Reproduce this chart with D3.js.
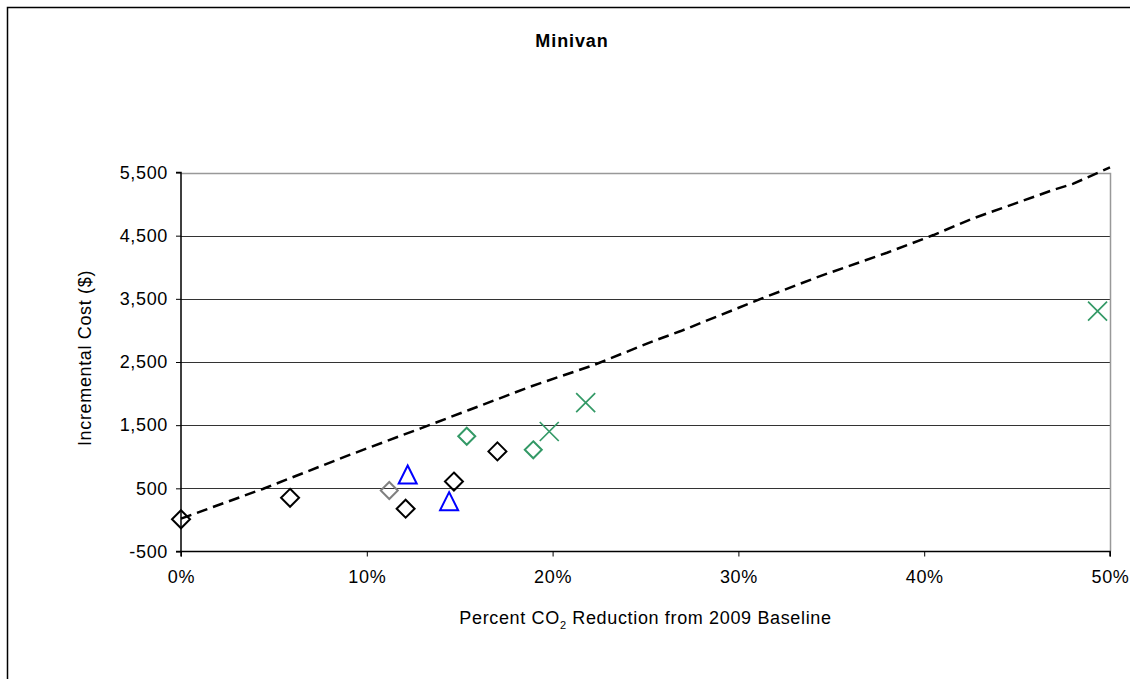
<!DOCTYPE html>
<html><head><meta charset="utf-8">
<script src="https://cdn.jsdelivr.net/npm/d3@7"></script>
<style>
html,body{margin:0;padding:0;background:#fff;}
svg{display:block;font-family:"Liberation Sans",Arial,sans-serif;}
</style></head>
<body><svg id="c" width="1130" height="679"></svg>
<script>
// ---- data ----
const title = "Minivan";
const xTicks = [0, 0.1, 0.2, 0.3, 0.4, 0.5];
const yTicks = [-500, 500, 1500, 2500, 3500, 4500, 5500];

// dashed cost curve
const curveX = [0, 0.044, 0.089, 0.129, 0.155, 0.188, 0.222, 0.255, 0.269, 0.313, 0.344, 0.380, 0.405, 0.426, 0.448, 0.470, 0.480, 0.500];
const curveY = [20, 490, 1010, 1450, 1740, 2110, 2450, 2840, 2990, 3510, 3860, 4230, 4510, 4770, 5000, 5230, 5320, 5580];

// black diamonds
const blackX = [0, 0.0587, 0.1209, 0.1469, 0.1703];
const blackY = [10, 350, 178, 607, 1085];
// grey diamond
const greyX = [0.1121];
const greyY = [466];
// blue triangles
const blueX = [0.1220, 0.1443];
const blueY = [720, 297];
// green diamonds
const greenDX = [0.1538, 0.1896];
const greenDY = [1325, 1110];
// green crosses
const greenXX = [0.1982, 0.2178, 0.4933];
const greenXY = [1400, 1856, 3305];

// ---- layout ----
const svg = d3.select("#c");
const L = 181, R = 1110, T = 172.5, B = 551.5;
const x = d3.scaleLinear().domain([0, 0.5]).range([L, R]);
const y = d3.scaleLinear().domain([-500, 5500]).range([B, T]);
const FS = 18, LS = 0.65;

// outer chart border
svg.append("rect").attr("x", 7.5).attr("y", 7.5).attr("width", 1150).attr("height", 700)
  .attr("fill", "#fff").attr("stroke", "#000").attr("stroke-width", 1.5);

// title
svg.append("text").attr("x", 572).attr("y", 47).attr("text-anchor", "middle")
  .attr("font-size", 18).attr("font-weight", "bold").attr("letter-spacing", 0.9).text(title);

// gridlines
svg.append("g").selectAll("line").data(yTicks.filter(d => d > -500 && d < 5500)).join("line")
  .attr("x1", L).attr("x2", R).attr("y1", d => Math.round(y(d)) + 0.5).attr("y2", d => Math.round(y(d)) + 0.5)
  .attr("stroke", "#333").attr("stroke-width", 1);

// plot area border top/right (grey)
svg.append("path").attr("d", `M${L},${Math.round(T)+0.5}H${R+0.5}V${B}`)
  .attr("fill", "none").attr("stroke", "#999").attr("stroke-width", 1.5);

// axes
const yAxis = d3.axisLeft(y).tickValues(yTicks).tickSize(5).tickPadding(8)
  .tickFormat(d => d3.format(",")(d).replace("−", "-"));
const gy = svg.append("g").attr("transform", `translate(${L},0)`).call(yAxis);
const xAxis = d3.axisBottom(x).tickValues(xTicks).tickSize(5).tickPadding(14)
  .tickFormat(d3.format(".0%"));
const gx = svg.append("g").attr("transform", `translate(0,${B})`).call(xAxis);
[gy, gx].forEach(g => {
  g.select(".domain").attr("stroke", "#000").attr("stroke-width", 1.5);
  g.selectAll(".tick line").attr("stroke", "#000").attr("stroke-width", 1);
  g.selectAll("text").attr("font-size", FS).attr("letter-spacing", LS).attr("fill", "#000")
    .attr("font-family", "'Liberation Sans',Arial,sans-serif");
});
gy.select(".domain").attr("d", `M-5,${B}H0V${T}H-5`);
gx.select(".domain").attr("d", `M${L},5V0H${R}V5`);

// axis titles
svg.append("text").attr("transform", `translate(91,${(T + B) / 2 - 4}) rotate(-90)`)
  .attr("text-anchor", "middle").attr("font-size", FS).attr("letter-spacing", LS).text("Incremental Cost ($)");
const xt = svg.append("text").attr("x", (L + R) / 2).attr("y", 624)
  .attr("text-anchor", "middle").attr("font-size", FS).attr("letter-spacing", LS);
xt.append("tspan").text("Percent CO");
xt.append("tspan").attr("font-size", 11).attr("dy", 5).text("2");
xt.append("tspan").attr("dy", -5).text(" Reduction from 2009 Baseline");

// dashed curve
const curve = curveX.map((d, i) => [d, curveY[i]]);
svg.append("path").datum(curve)
  .attr("d", d3.line().x(d => x(d[0])).y(d => y(d[1])))
  .attr("fill", "none").attr("stroke", "#000").attr("stroke-width", 2.5)
  .attr("stroke-dasharray", "11,6");

// markers
const diamond = (s) => `M0,${-s}L${s},0L0,${s}L${-s},0Z`;
function diamonds(xs, ys, color, s, sw) {
  svg.append("g").selectAll("path").data(xs.map((d, i) => [d, ys[i]])).join("path")
    .attr("transform", d => `translate(${x(d[0])},${y(d[1])})`)
    .attr("d", diamond(s)).attr("fill", "none").attr("stroke", color).attr("stroke-width", sw);
}
diamonds(blackX, blackY, "#000", 9, 2);
diamonds(greyX, greyY, "#808080", 8.5, 2);
diamonds(greenDX, greenDY, "#339966", 8.5, 2);

svg.append("g").selectAll("path").data(blueX.map((d, i) => [d, blueY[i]])).join("path")
  .attr("transform", d => `translate(${x(d[0])},${y(d[1])})`)
  .attr("d", "M0,-9L9,9L-9,9Z").attr("fill", "none").attr("stroke", "#0000ff").attr("stroke-width", 2);

svg.append("g").selectAll("path").data(greenXX.map((d, i) => [d, greenXY[i]])).join("path")
  .attr("transform", d => `translate(${x(d[0])},${y(d[1])})`)
  .attr("d", "M-9.5,-9.5L9.5,9.5M-9.5,9.5L9.5,-9.5").attr("fill", "none").attr("stroke", "#339966").attr("stroke-width", 1.7);
</script></body></html>
